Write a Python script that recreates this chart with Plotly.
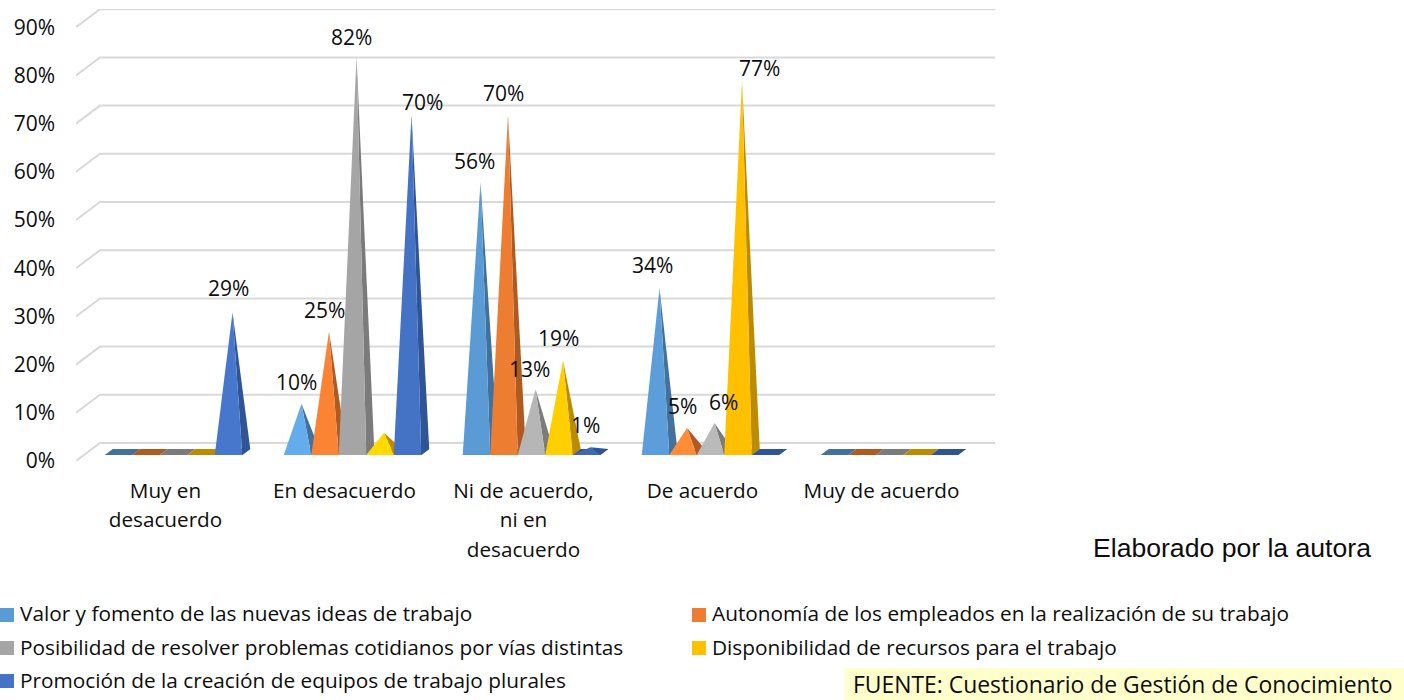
import plotly.graph_objects as go

# Survey responses per category, one list per statement
categories = ["Muy en<br>desacuerdo", "En desacuerdo", "Ni de acuerdo,<br>ni en<br>desacuerdo",
              "De acuerdo", "Muy de acuerdo"]
series_names = [
    "Valor y fomento de las nuevas ideas de trabajo",
    "Autonomía de los empleados en la realización de su trabajo",
    "Posibilidad de resolver problemas cotidianos por vías distintas",
    "Disponibilidad de recursos para el trabajo",
    "Promoción de la creación de equipos de trabajo plurales",
]
valor = [0, 10, 56, 34, 0]
autonomia = [0, 25, 70, 5, 0]
posibilidad = [0, 82, 13, 6, 0]
disponibilidad = [0, 4, 19, 77, 0]
promocion = [29, 70, 1, 0, 0]
series_values = [valor, autonomia, posibilidad, disponibilidad, promocion]

front_colors = ["#5B9BD5", "#ED7D31", "#A5A5A5", "#FFC000", "#4472C4"]
dark_colors = ["#41719C", "#AE5A21", "#7B7B7B", "#BC8C00", "#2F5597"]

y_ticks = [0, 10, 20, 30, 40, 50, 60, 70, 80, 90]
y_tick_labels = ["0%", "10%", "20%", "30%", "40%", "50%", "60%", "70%", "80%", "90%"]

# Values that stay unlabelled in the chart
unlabelled = {(1, 3), (3, 4)}
# Pixel nudges for data labels that sit apart from the default spot
label_nudge = {(0, 4): (-4, 24), (1, 2): (-5, 20), (1, 4): (11, 13), (2, 0): (-6, 21),
               (2, 2): (-6, 20), (3, 0): (-7, 23), (3, 2): (9, 21), (3, 3): (17, 13)}
default_nudge = (-5, 22)

W, H = 1404, 700
PLOT_L, PLOT_R, PLOT_T, PLOT_B = 76, 995, 9, 461
CAT_PX = 179.0
PER_PCT_PX = 4.82
DEPTH_X = 24 / CAT_PX            # shift in category units across the floor depth
DEPTH_Y = 18 / PER_PCT_PX        # shift in percent units across the floor depth
BAR_W = 27.5 / CAT_PX
Z_FRONT, Z_MID, Z_BACK = 1 / 3, 1 / 2, 2 / 3
TEXT = "#0D0D0D"


def project(x, value, z):
    """Oblique projection of a point at depth z (0 front wall, 1 back wall)."""
    return x + DEPTH_X * z, value + DEPTH_Y * z


def shade(hex_color, factor):
    rgb = [int(hex_color[i:i + 2], 16) for i in (1, 3, 5)]
    return "#" + "".join(f"{min(255, round(c * factor)):02X}" for c in rgb)


def poly(points, color, name):
    xs, ys = zip(*points)
    return go.Scatter(x=list(xs) + [xs[0]], y=list(ys) + [ys[0]], mode="lines", fill="toself",
                      fillcolor=color, line=dict(width=0), hoverinfo="skip",
                      showlegend=False, name=name)


fig = go.Figure()

# Wall and floor grid: a diagonal on the side wall, then across the back wall
x_left, x_right = -0.5, len(categories) - 0.5
for v in y_ticks:
    a = project(x_left, v, 0)
    b = project(x_left, v, 1)
    c = project(x_right, v, 1)
    fig.add_trace(go.Scatter(x=[a[0], b[0], c[0]], y=[a[1], b[1], c[1]], mode="lines",
                             line=dict(color="#D9D9D9", width=2), hoverinfo="skip", showlegend=False))

annotations = []

# Pyramids, left to right so each one overlaps the previous dark face
for c_idx in range(len(categories)):
    for s_idx, name in enumerate(series_names):
        v = series_values[s_idx][c_idx]
        centre = c_idx + (s_idx - 2) * BAR_W
        lo, hi = centre - BAR_W / 2, centre + BAR_W / 2
        fl, fr = project(lo, 0, Z_FRONT), project(hi, 0, Z_FRONT)
        bl, br = project(lo, 0, Z_BACK), project(hi, 0, Z_BACK)
        fig.add_trace(poly([fl, fr, br, bl], dark_colors[s_idx], name))
        if v > 0:
            apex = project(centre, v, Z_MID)
            # Short pyramids catch more light on the front face; nearly flat ones stay dim
            lift = 0.92 if v < 3 else 1 + 0.15 * max(0, 1 - v / 40)
            fig.add_trace(poly([fr, br, apex], dark_colors[s_idx], name))
            fig.add_trace(poly([fl, fr, apex], shade(front_colors[s_idx], lift), name))
            if (c_idx, s_idx) not in unlabelled:
                dx, dy = label_nudge.get((c_idx, s_idx), default_nudge)
                annotations.append(dict(x=apex[0], y=apex[1], xref="x", yref="y", text=f"{v}%",
                                        showarrow=False, xshift=dx, yshift=dy,
                                        font=dict(family="Open Sans", size=21, color=TEXT)))

# Legend rows: swatch plus text, two columns
legend_spots = [(0, 18, 615, 613), (692, 710, 615, 613), (0, 18, 648, 647),
                (692, 710, 648, 647), (0, 18, 681, 680)]
shapes = []
for (sx, tx, sy, ty), name, col in zip(legend_spots, series_names, front_colors):
    shapes.append(dict(type="rect", xref="paper", yref="paper", x0=sx / W, x1=(sx + 14) / W,
                       y0=1 - (sy + 7) / H, y1=1 - (sy - 7) / H, fillcolor=col, line=dict(width=0)))
    annotations.append(dict(x=tx / W, y=1 - ty / H, xref="paper", yref="paper", text=name,
                            showarrow=False, xanchor="left", yanchor="middle",
                            font=dict(family="Open Sans", size=20.8, color=TEXT)))

# Source note and authorship
shapes.append(dict(type="rect", xref="paper", yref="paper", x0=845 / W, x1=1, y0=0, y1=1 - 668 / H,
                   fillcolor="#FFFFCC", line=dict(width=0), layer="below"))
annotations.append(dict(x=852 / W, y=1 - 684 / H, xref="paper", yref="paper",
                        text="FUENTE: Cuestionario de Gestión de Conocimiento", showarrow=False,
                        xanchor="left", yanchor="middle", borderpad=0,
                        font=dict(family="Open Sans", size=22.9, color=TEXT)))
annotations.append(dict(x=1091 / W, y=1 - 548 / H, xref="paper", yref="paper",
                        text="Elaborado por la autora", showarrow=False, xanchor="left", yanchor="middle",
                        font=dict(family="Liberation Sans", size=26.6, color=TEXT)))

x_range = [x_left, x_right + DEPTH_X]
y_range = [0, (PLOT_B - PLOT_T) / PER_PCT_PX]
tick_text = ['<span style="font-size:20.7px">' + c + "</span>" for c in categories]

fig.update_layout(
    width=W, height=H, autosize=False, margin=dict(l=0, r=0, t=0, b=0, autoexpand=False),
    paper_bgcolor="white", plot_bgcolor="white", showlegend=False,
    xaxis=dict(domain=[PLOT_L / W, PLOT_R / W], range=x_range, showgrid=False, zeroline=False,
               showline=False, tickmode="array", tickvals=list(range(len(categories))), ticktext=tick_text,
               tickangle=0, ticks="", ticklabelstandoff=13, fixedrange=True,
               tickfont=dict(family="Open Sans", size=22.7, color=TEXT)),
    yaxis=dict(domain=[1 - PLOT_B / H, 1 - PLOT_T / H], range=y_range, showgrid=False, zeroline=False,
               showline=False, tickmode="array", tickvals=y_ticks, ticktext=y_tick_labels,
               ticks="", ticklabelstandoff=20, fixedrange=True,
               tickfont=dict(family="Open Sans", size=21, color=TEXT)),
    shapes=shapes, annotations=annotations,
)

fig.write_html("out.html")
